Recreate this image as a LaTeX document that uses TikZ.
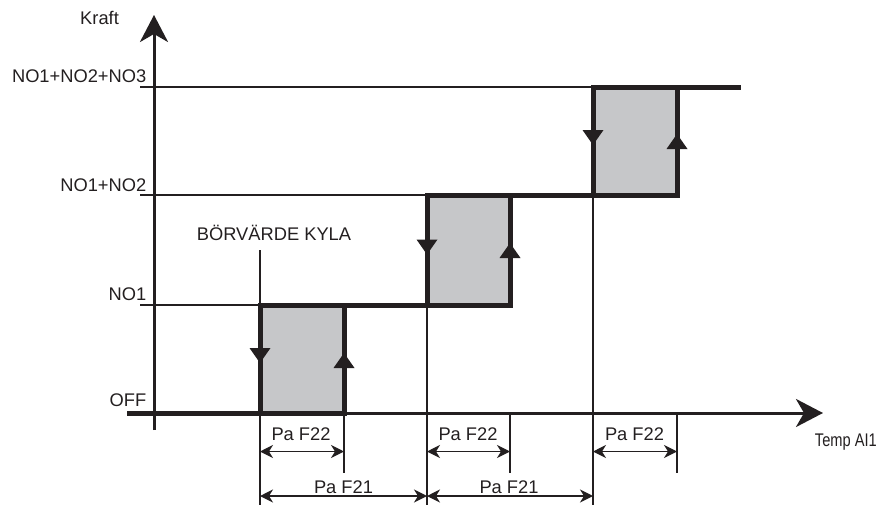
\documentclass[tikz,border=0pt]{standalone}
\usepackage{fontspec}
\setmainfont{Liberation Sans}
\usetikzlibrary{arrows.meta}
\definecolor{linecol}{HTML}{231F20}
\definecolor{boxfill}{HTML}{C6C7C9}
\begin{document}
\begin{tikzpicture}[x=1pt,y=-1pt,
  lbl/.style={inner sep=0pt, font=\fontsize{18.3}{21}\selectfont, text=linecol},
  axisline/.style={draw=linecol, line width=3pt, -{Stealth[length=27pt,width=28pt,inset=8pt]}},
  thinline/.style={draw=linecol, line width=1.3pt},
  stepline/.style={draw=linecol, line width=5pt, line cap=rect, line join=miter},
  hyst/.style={fill=boxfill, draw=linecol, line width=5pt, line join=miter},
  dimarrow/.style={draw=linecol, line width=1.3pt, {Stealth[length=13pt,width=13pt,inset=4pt]}-{Stealth[length=13pt,width=13pt,inset=4pt]}},
  downtri/.pic={\fill[linecol] (-10.5,-7.5) -- (10.5,-7.5) -- (0,7.5) -- cycle;},
  uptri/.pic={\fill[linecol] (-10.5,7.5) -- (10.5,7.5) -- (0,-7.5) -- cycle;}
]
\useasboundingbox (0,0) rectangle (881,506);

% key coordinates
\coordinate (yb) at (154,430);
\coordinate (yt) at (154,15);
\coordinate (xs) at (129,413);
\coordinate (xa) at (154,413);
\coordinate (xe) at (823,413);

\coordinate (l3s) at (140,87);
\coordinate (l2s) at (140,195);
\coordinate (l1s) at (140,305);

% boxes
\coordinate (b1tl) at (260,305);
\coordinate (b1br) at (344,413);
\coordinate (b2tl) at (427,195);
\coordinate (b2br) at (510,305);
\coordinate (b3tl) at (593,87);
\coordinate (b3br) at (677,195);
\coordinate (topend) at (738,87);

% vertical guide ends
\coordinate (v1t) at (260,250);
\coordinate (v1b) at (260,505);
\coordinate (v2b) at (344,473);
\coordinate (v3b) at (427,505);
\coordinate (v4t) at (510,413);
\coordinate (v4b) at (510,473);
\coordinate (v5b) at (593,505);
\coordinate (v6t) at (677,413);
\coordinate (v6b) at (677,473);

% dimension arrow ends
\coordinate (d1a) at (260,451.5);
\coordinate (d1b) at (344,451.5);
\coordinate (d2a) at (427,451.5);
\coordinate (d2b) at (510,451.5);
\coordinate (d3a) at (593,451.5);
\coordinate (d3b) at (677,451.5);
\coordinate (e1a) at (260,496);
\coordinate (e1b) at (427,496);
\coordinate (e2a) at (427,496);
\coordinate (e2b) at (593,496);

% thin reference lines
\draw[thinline] (l3s) -- (b3tl);
\draw[thinline] (l2s) -- (b2tl |- l2s);
\draw[thinline] (l1s) -- (b1tl);
\draw[thinline] (v1t) -- (v1b);
\draw[thinline] (b1br) -- (v2b);
\draw[thinline] (b2tl |- b1tl) -- (v3b);
\draw[thinline] (v4t) -- (v4b);
\draw[thinline] (b3tl |- b2tl) -- (v5b);
\draw[thinline] (v6t) -- (v6b);

% axes
\draw[axisline] (yb) -- (yt);
\draw[axisline] (xa) -- (xe);

% hysteresis boxes
\path[hyst] (b1tl) rectangle (b1br);
\path[hyst] (b2tl) rectangle (b2br);
\path[hyst] (b3tl) rectangle (b3br);

% staircase
\draw[stepline] (xs) -- (b1br);
\draw[stepline] (b1tl) -- (b2tl |- b1tl);
\draw[stepline] (b2tl) -- (b3tl |- b2tl);
\draw[stepline] (b3tl) -- (topend);

% direction triangles
\pic at (260,355.5) {downtri};
\pic at (344,360.5) {uptri};
\pic at (427,247) {downtri};
\pic at (510,250.5) {uptri};
\pic at (593,137.5) {downtri};
\pic at (677,141.5) {uptri};

% dimension arrows
\draw[dimarrow] (d1a) -- (d1b);
\draw[dimarrow] (d2a) -- (d2b);
\draw[dimarrow] (d3a) -- (d3b);
\draw[dimarrow] (e1a) -- (e1b);
\draw[dimarrow] (e2a) -- (e2b);

% labels
\node[lbl, anchor=base west] (kraft) at (80,24) {Kraft};
\node[lbl, anchor=base east] (n123) at (146.5,82) {NO1+NO2+NO3};
\node[lbl, anchor=base east] (n12) at (146.5,191.5) {NO1+NO2};
\node[lbl, anchor=base east] (n1) at (146.5,300) {NO1};
\node[lbl, anchor=base east] (off) at (146.5,406) {OFF};
\node[lbl, anchor=base] (bork) at (274,240) {BÖRVÄRDE KYLA};
\node[lbl, anchor=base] (f22a) at (301,440.5) {Pa F22};
\node[lbl, anchor=base] (f22b) at (468,440.5) {Pa F22};
\node[lbl, anchor=base] (f22c) at (634.5,440.5) {Pa F22};
\node[lbl, anchor=base] (f21a) at (343.5,493.5) {Pa F21};
\node[lbl, anchor=base] (f21b) at (509,493.5) {Pa F21};
\node[lbl, anchor=base east] (temp) at (877,446.5) {\scalebox{0.8}[1]{Temp AI1}};
\end{tikzpicture}
\end{document}
